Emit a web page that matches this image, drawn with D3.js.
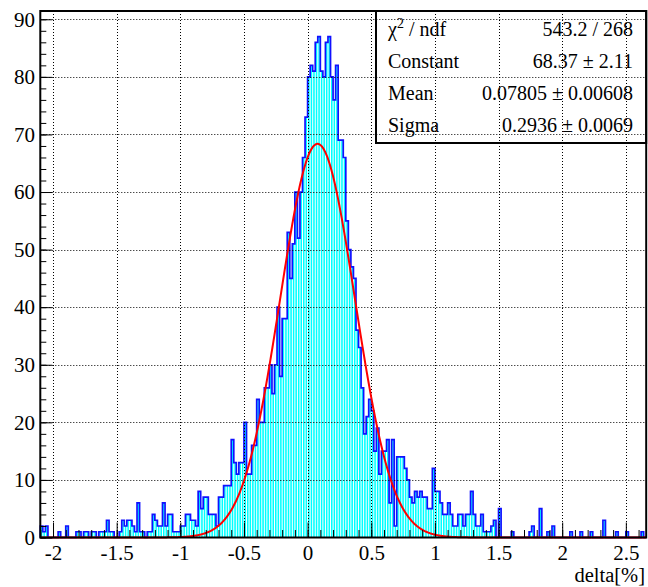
<!DOCTYPE html>
<html>
<head>
<meta charset="utf-8">
<script src="https://cdn.jsdelivr.net/npm/d3@7/dist/d3.min.js"></script>
<style>
  html, body { margin: 0; padding: 0; background: #fff; }
  svg { display: block; }
  text { font-family: "Liberation Serif", "Times New Roman", serif; fill: #000; }
</style>
</head>
<body>
<svg id="chart" width="648" height="587"></svg>
<script>
// Histogram of delta[%]: 238 bins of width 0.02 starting at -2.1
const binStart = -2.1;
const binWidth = 0.02;
const counts = [
  2,1,2,0,0,0,0,1,0,0, 2,0,0,0,1,1,0,1,1,0,
  1,1,0,1,1,1,3,1,1,0, 0,1,3,2,3,3,2,1,6,1,
  1,0,1,1,4,3,2,2,6,2, 4,4,1,1,1,2,2,4,4,3,
  3,2,8,5,7,7,4,4,4,2, 7,7,9,9,9,17,13,11,13,13,
  20,11,11,16,16,24,20,20,26,26, 30,25,30,40,28,38,38,53,45,51,
  60,52,60,66,73,80,82,81,86,87, 81,80,86,87,80,76,82,69,69,66,
  55,50,47,45,36,33,26,18,21,24, 22,15,19,11,15,15,17,6,17,2,
  14,14,14,12,10,7,6,8,7,8, 7,7,5,5,12,8,8,6,4,4,
  6,4,2,2,4,4,2,4,4,8, 4,2,2,4,1,1,1,2,3,0,
  5,0,0,0,0,1,0,0,0,0, 0,0,1,2,0,0,5,0,0,1,
  0,2,0,0,0,0,0,0,1,0, 0,0,1,0,0,0,1,0,0,0,
  0,3,0,0,0,0,1,0,0,0, 1,0,0,0,0,0,1,0
];

// Gaussian fit results shown in the statistics box
const fitConstant = 68.37;
const fitMean = 0.07805;
const fitSigma = 0.2936;

const statNames = ["ndf", "Constant", "Mean", "Sigma"];
const statValues = ["543.2 / 268", "68.37 \u00b1 2.11", "0.07805 \u00b1 0.00608", "0.2936 \u00b1 0.0069"];

// Axis ticks
const xMajorTicks = [-2, -1.5, -1, -0.5, 0, 0.5, 1, 1.5, 2, 2.5];
const xTickLabels = ["-2", "-1.5", "-1", "-0.5", "0", "0.5", "1", "1.5", "2", "2.5"];
const yMajorTicks = [0, 10, 20, 30, 40, 50, 60, 70, 80, 90];
const yTickLabels = ["0", "10", "20", "30", "40", "50", "60", "70", "80", "90"];
const xTitle = "delta[%]";

const xMin = binStart;
const xMax = binStart + counts.length * binWidth;
const yMax = 91.44;

const frame = { left: 40.3, right: 646.2, top: 11, bottom: 537.5 };

const svg = d3.select("#chart");
const x = d3.scaleLinear().domain([xMin, xMax]).range([frame.left, frame.right]);
const y = d3.scaleLinear().domain([0, yMax]).range([frame.bottom, frame.top]);

const bins = counts.map((c, i) => ({
  x0: binStart + i * binWidth,
  x1: binStart + (i + 1) * binWidth,
  c
}));

// Filled bars (thin pale seams between neighbouring bins)
svg.append("g")
  .selectAll("rect")
  .data(bins.filter(b => b.c > 0))
  .join("rect")
  .attr("x", b => x(b.x0) + 0.5)
  .attr("width", b => x(b.x1) - x(b.x0) - 1.0)
  .attr("y", b => y(b.c))
  .attr("height", b => y(0) - y(b.c))
  .attr("fill", "#00ffff");

// Step outline
let d = `M${x(xMin)},${y(0)}`;
bins.forEach(b => {
  d += `L${x(b.x0)},${y(b.c)}L${x(b.x1)},${y(b.c)}`;
});
d += `L${x(xMax)},${y(0)}`;
svg.append("path")
  .attr("d", d)
  .attr("fill", "none")
  .attr("stroke", "#1010ff")
  .attr("stroke-width", 1.7)
  .attr("stroke-linejoin", "miter");

// Dotted grid
const grid = svg.append("g")
  .attr("stroke", "#000")
  .attr("stroke-width", 1)
  .attr("stroke-dasharray", "1,2");
grid.selectAll(".gx")
  .data(xMajorTicks)
  .join("line")
  .attr("x1", v => Math.round(x(v)) + 0.5)
  .attr("x2", v => Math.round(x(v)) + 0.5)
  .attr("y1", frame.top)
  .attr("y2", frame.bottom);
grid.selectAll(".gy")
  .data(yMajorTicks.filter(v => v > 0))
  .join("line")
  .attr("x1", frame.left)
  .attr("x2", frame.right)
  .attr("y1", v => Math.round(y(v)) + 0.5)
  .attr("y2", v => Math.round(y(v)) + 0.5);

// Gaussian fit curve
const gauss = v => fitConstant * Math.exp(-0.5 * Math.pow((v - fitMean) / fitSigma, 2));
const curveX = d3.range(xMin, xMax + 1e-9, 0.004);
svg.append("path")
  .datum(curveX)
  .attr("d", d3.line().x(v => x(v)).y(v => y(gauss(v))))
  .attr("fill", "none")
  .attr("stroke", "#ff0000")
  .attr("stroke-width", 2);

// Axes
const xMinor = d3.range(-21, 27).map(i => i / 10).filter(v => v >= xMin && v <= xMax);
const yMinor = d3.range(0, 92, 2);

const xAxisMinor = d3.axisBottom(x).tickValues(xMinor).tickSize(-7.5).tickFormat("");
const xAxisMajor = d3.axisBottom(x).tickValues(xMajorTicks).tickSize(-15).tickPadding(8)
  .tickFormat((v, i) => xTickLabels[i]);
const yAxisMinor = d3.axisLeft(y).tickValues(yMinor).tickSize(-6).tickFormat("");
const yAxisMajor = d3.axisLeft(y).tickValues(yMajorTicks).tickSize(-12).tickPadding(5.3)
  .tickFormat((v, i) => yTickLabels[i]);

function styleAxis(g) {
  g.select(".domain").remove();
  g.selectAll("line").attr("stroke", "#000").attr("stroke-width", 1);
  g.selectAll("text").attr("font-family", "Liberation Serif, serif").attr("font-size", 21).attr("fill", "#000");
}

svg.append("g").attr("transform", `translate(0,${frame.bottom})`).call(xAxisMinor).call(styleAxis);
svg.append("g").attr("transform", `translate(0,${frame.bottom})`).call(xAxisMajor).call(styleAxis);
svg.append("g").attr("transform", `translate(${frame.left},0)`).call(yAxisMinor).call(styleAxis);
svg.append("g").attr("transform", `translate(${frame.left},0)`).call(yAxisMajor).call(styleAxis);

// Frame
svg.append("rect")
  .attr("x", frame.left)
  .attr("y", frame.top)
  .attr("width", frame.right - frame.left)
  .attr("height", frame.bottom - frame.top)
  .attr("fill", "none")
  .attr("stroke", "#000")
  .attr("stroke-width", 2);

// Axis title
svg.append("text")
  .attr("x", 645)
  .attr("y", 582)
  .attr("text-anchor", "end")
  .attr("font-size", 20.5)
  .text(xTitle);

// Statistics box
const box = { x: 376, y: 11, w: 270.2, h: 132 };
svg.append("rect")
  .attr("x", box.x)
  .attr("y", box.y)
  .attr("width", box.w)
  .attr("height", box.h)
  .attr("fill", "none")
  .attr("stroke", "#000")
  .attr("stroke-width", 2);

const rowBase = [36, 68, 100, 132];
const stats = svg.append("g").attr("font-size", 20);
statNames.forEach((name, i) => {
  const left = stats.append("text").attr("x", 388).attr("y", rowBase[i]);
  if (i === 0) {
    left.append("tspan").text("\u03c7");
    left.append("tspan").attr("font-size", 14).attr("dy", -8).text("2");
    left.append("tspan").attr("dy", 8).text(" / " + name);
  } else {
    left.text(name);
  }
  stats.append("text")
    .attr("x", 633)
    .attr("y", rowBase[i])
    .attr("text-anchor", "end")
    .text(statValues[i]);
});
</script>
</body>
</html>
